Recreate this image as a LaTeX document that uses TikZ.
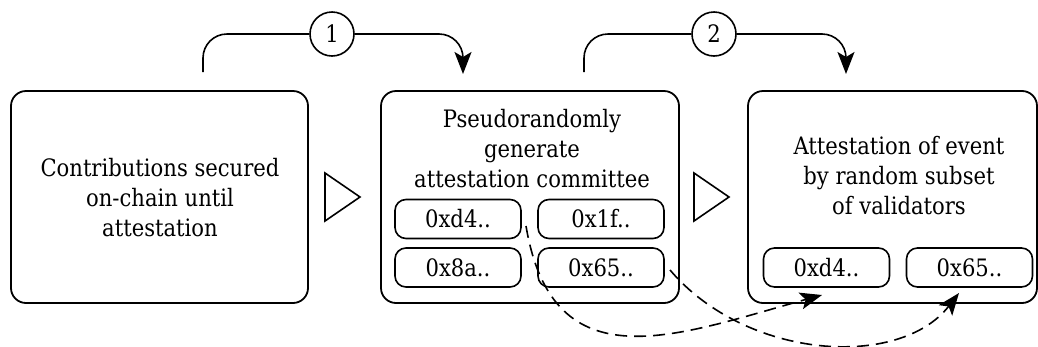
\documentclass[tikz,border=0pt]{standalone}
\usepackage{fontspec}
\setmainfont{DejaVu Serif}[FakeStretch=0.88]
\usetikzlibrary{arrows.meta}
\begin{document}
\begin{tikzpicture}[x=1pt,y=-1pt,
  bigbox/.style={draw, line width=1.8pt, rounded corners=15pt, minimum height=212pt},
  smallbox/.style={draw, line width=1.6pt, rounded corners=11pt, minimum width=126pt, minimum height=39pt, font=\fontsize{24}{28}\selectfont},
  label/.style={align=center, font=\fontsize{24}{30}\selectfont},
  numcirc/.style={draw, circle, line width=1.6pt, minimum size=44pt, inner sep=0pt, font=\fontsize{24}{28}\selectfont},
  conn/.style={line width=1.6pt, rounded corners=24pt},
  tip/.style={-{Stealth[length=22pt,width=17pt,inset=5pt]}},
  dconn/.style={line width=1.6pt, dash pattern=on 12pt off 7pt},
  tri/.style={draw, line width=1.6pt}]
\useasboundingbox (0,0) rectangle (1038,346);
% main boxes
\node[bigbox, minimum width=297pt] (b1) at (159.5,197) {};
\node[bigbox, minimum width=298pt] (b2) at (530,197) {};
\node[bigbox, minimum width=289pt] (b3) at (892.5,197) {};
% texts
\node[label] (t1) at (160,198) {Contributions secured\\on-chain until\\attestation};
\node[label] (t2) at (532,149) {Pseudorandomly\\generate\\attestation committee};
\node[label] (t3) at (899,176) {Attestation of event\\by random subset\\of validators};
% small boxes
\node[smallbox] (s1) at (458,219) {0xd4..};
\node[smallbox] (s2) at (601,219) {0x1f..};
\node[smallbox] (s3) at (458,267.5) {0x8a..};
\node[smallbox] (s4) at (601,267.5) {0x65..};
\node[smallbox] (s5) at (826.5,267.5) {0xd4..};
\node[smallbox] (s6) at (969.5,267.5) {0x65..};
% triangles
\draw[tri] (325,173) -- (360,197) -- (325,221) -- cycle;
\draw[tri] (694,173) -- (729,197) -- (694,221) -- cycle;
% top connectors
\node[numcirc] (c1) at (332,34) {1};
\node[numcirc] (c2) at (714,34) {2};
\coordinate (a1s) at (203,72);
\coordinate (a1e) at (463,74);
\coordinate (a2s) at (584,72);
\coordinate (a2e) at (846,74);
\draw[conn] (a1s) |- (c1.west);
\draw[conn, tip] (c1.east) -| (a1e);
\draw[conn] (a2s) |- (c2.west);
\draw[conn, tip] (c2.east) -| (a2e);
% dashed connectors
\coordinate (d1s) at (526,226);
\coordinate (d1e) at (822,295);
\coordinate (d2s) at (670,270);
\coordinate (d2e) at (959,293);
\draw[dconn, tip] (d1s) .. controls (553,386) and (677,335) .. (d1e);
\draw[dconn, tip] (d2s) .. controls (746.5,360) and (899.5,369.5) .. (d2e);
\end{tikzpicture}
\end{document}
